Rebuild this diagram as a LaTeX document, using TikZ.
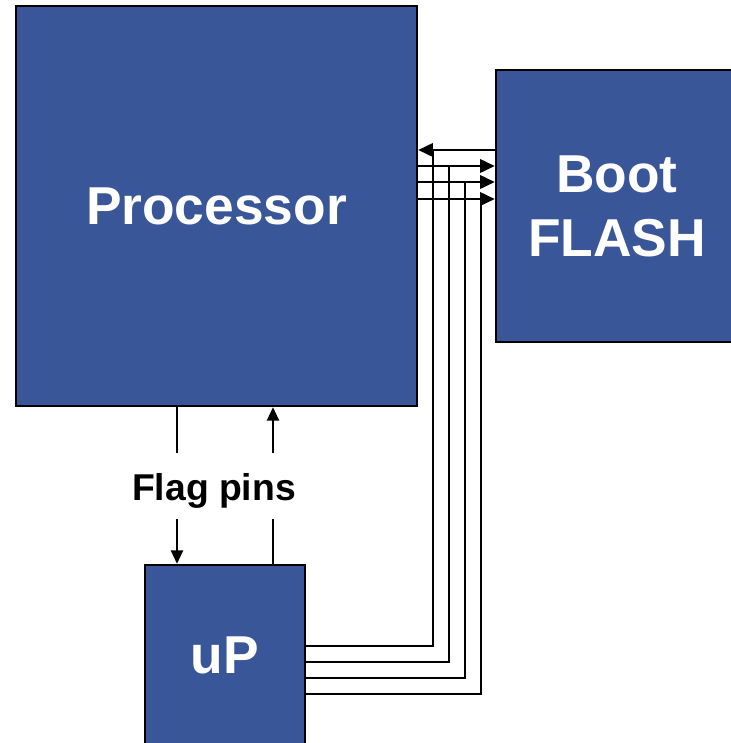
\documentclass[tikz,border=0pt]{standalone}
\usepackage{fontspec}
\setmainfont{Liberation Sans}
\usepackage{tikz}
\usetikzlibrary{positioning,arrows.meta,calc}
\definecolor{blockblue}{RGB}{57,87,152}
\tikzset{
  block-node/.style={draw=black, line width=1.8pt, fill=blockblue, text=white,
    font=\bfseries\fontsize{40}{48}\selectfont, align=center, inner sep=0pt},
  bus-line/.style={line width=1.8pt, draw=black},
  bus-arrow/.style={-{Triangle[length=11pt,width=10pt]}, line width=1.8pt, draw=black},
  flag-line/.style={line width=1.5pt, draw=black},
  flag-arrow/.style={-{Triangle[length=10pt,width=9pt]}, line width=1.5pt, draw=black},
  label-text/.style={font=\bfseries\fontsize{28}{32}\selectfont, inner sep=0pt,
    text height=27pt, text depth=6pt, minimum height=49.5pt}
}
\begin{document}
\begin{tikzpicture}[x=0.75pt, y=-0.75pt]
\useasboundingbox (0,0) rectangle (731,743);

% Blocks
\node[block-node, minimum width=300.75pt, minimum height=300pt] (proc) at (216.5,206) {Processor};
\node[block-node, minimum width=181.5pt, minimum height=204pt] (flash) at (617,206) {Boot\\FLASH};
\node[block-node, minimum width=120pt, minimum height=135pt] (up) at (225,655) {uP};

% Processor <-> Boot FLASH bus
\draw[bus-arrow] (flash.west |- 0,150) -- (proc.east |- 0,150);
\foreach \y in {166,182,199}
  \draw[bus-arrow] (proc.east |- 0,\y) -- (flash.west |- 0,\y);

% uP taps onto the bus
\foreach \i/\x/\ybus/\yup in {1/433/150/646, 2/449/166/662, 3/465/182/678, 4/481/199/694}
{
  \coordinate (tap\i) at (\x,\ybus);
  \draw[bus-line] (up.east |- 0,\yup) -| (tap\i);
}

% Flag pins
\node[label-text] (flag) at (214,486) {Flag pins};
\draw[flag-line] (proc.south -| 177,0) -- (flag.north -| 177,0);
\draw[flag-arrow] (flag.south -| 177,0) -- (up.north -| 177,0);
\draw[flag-line] (up.north -| 273,0) -- (flag.south -| 273,0);
\draw[flag-arrow] (flag.north -| 273,0) -- (proc.south -| 273,0);
\end{tikzpicture}
\end{document}
